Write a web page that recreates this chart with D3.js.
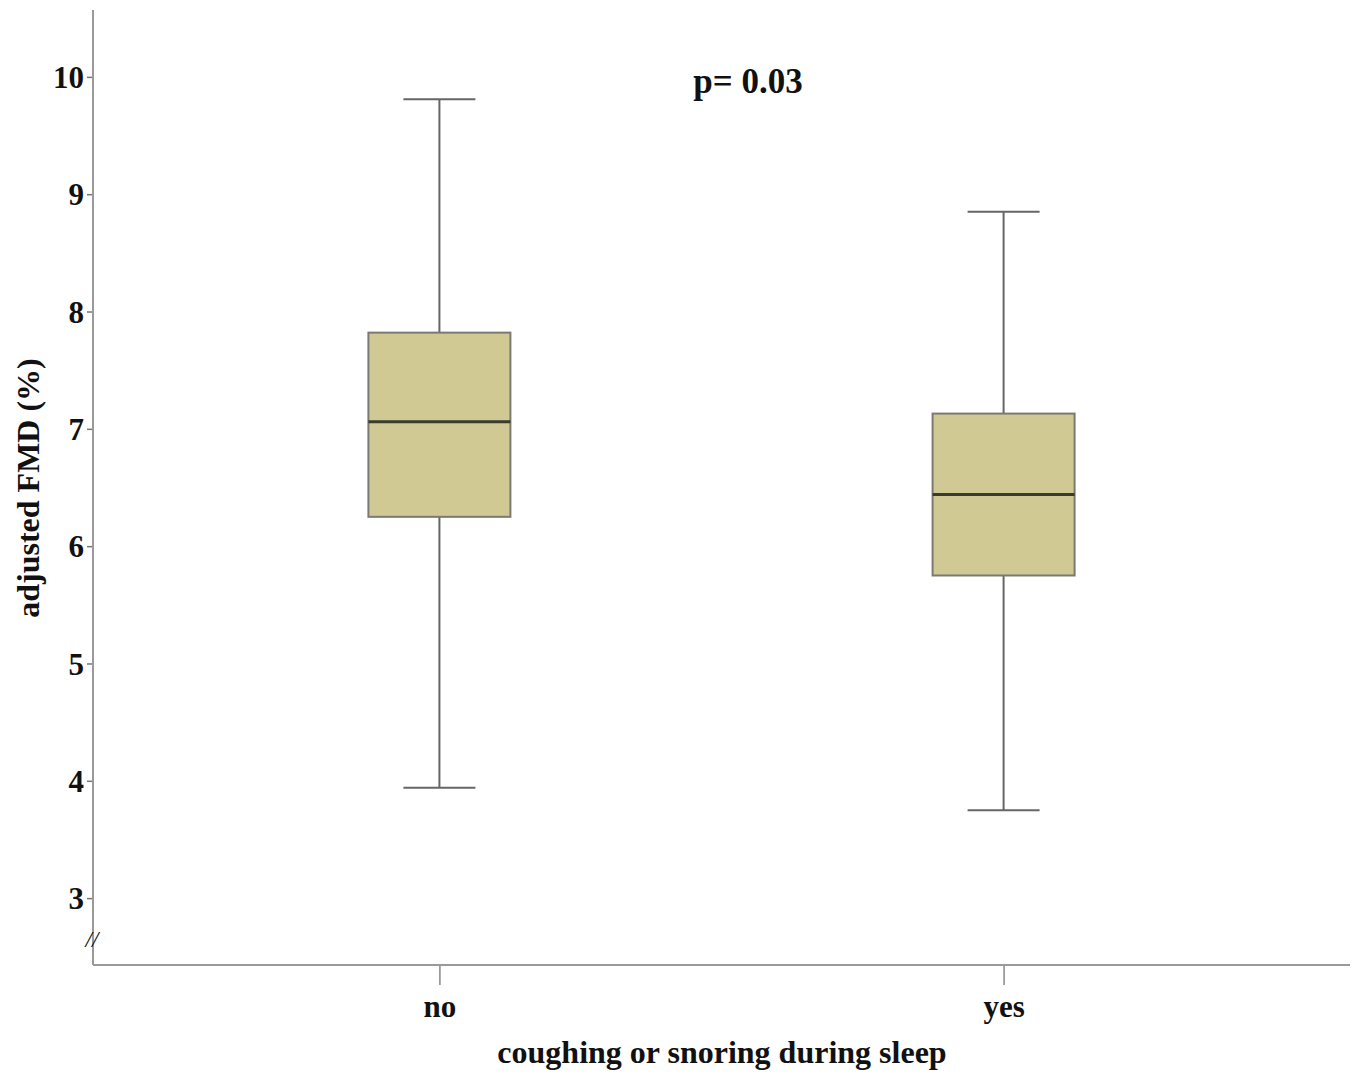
<!DOCTYPE html>
<html>
<head>
<meta charset="utf-8">
<script src="https://cdn.jsdelivr.net/npm/d3@7"></script>
<style>
  html, body { margin: 0; padding: 0; background: #fff; }
  svg { display: block; }
  text { font-family: "Liberation Serif", "Times New Roman", serif; font-weight: bold; fill: #111; }
</style>
</head>
<body>
<svg id="chart" width="1358" height="1075"></svg>
<script>
const categories = ["no", "yes"];
const whiskerLow = [3.94, 3.75];
const q1 = [6.25, 5.75];
const median = [7.06, 6.44];
const q3 = [7.82, 7.13];
const whiskerHigh = [9.81, 8.85];
const yTicks = [3, 4, 5, 6, 7, 8, 9, 10];
const pLabel = "p= 0.03";
const xTitle = "coughing or snoring during sleep";
const yTitle = "adjusted FMD (%)";

const data = categories.map((c, i) => ({
  cat: c, lo: whiskerLow[i], q1: q1[i], med: median[i], q3: q3[i], hi: whiskerHigh[i]
}));

const svg = d3.select("#chart");
const mLeft = 93, mRight = 1350, mTop = 10, mBottom = 965;

const x = d3.scalePoint().domain(categories).range([mLeft, mRight]).padding(0.614);
const y = d3.scaleLinear().domain([2.43, 10.57]).range([mBottom, mTop]);

const axisColor = "#9a9a9a";

// Y axis
const yAxis = svg.append("g").attr("transform", `translate(${mLeft},0)`)
  .call(d3.axisLeft(y).tickValues(yTicks).tickSize(6).tickPadding(3).tickFormat(d3.format("d")));
yAxis.select(".domain").remove();
yAxis.selectAll(".tick line").attr("stroke", "#777").attr("stroke-width", 1.5);
yAxis.selectAll(".tick text").style("font-size", "31px").attr("fill", "#111")
  .style("font-family", '"Liberation Serif", serif').style("font-weight", "bold").attr("dy", "0.34em");
svg.append("line").attr("x1", mLeft).attr("x2", mLeft).attr("y1", mTop).attr("y2", mBottom)
  .attr("stroke", axisColor).attr("stroke-width", 2);

// X axis
const xAxis = svg.append("g").attr("transform", `translate(0,${mBottom})`)
  .call(d3.axisBottom(x).tickSize(20).tickPadding(10));
xAxis.select(".domain").remove();
xAxis.selectAll(".tick line").attr("stroke", "#888").attr("stroke-width", 1.5);
xAxis.selectAll(".tick text").style("font-size", "31px").attr("fill", "#111")
  .style("font-family", '"Liberation Serif", serif').style("font-weight", "bold");
svg.append("line").attr("x1", mLeft).attr("x2", mRight).attr("y1", mBottom).attr("y2", mBottom)
  .attr("stroke", axisColor).attr("stroke-width", 2);

// Axis break mark
svg.append("text").attr("x", mLeft - 1).attr("y", y(2.63)).attr("text-anchor", "middle")
  .attr("dominant-baseline", "middle")
  .style("font-size", "23px").style("font-style", "italic").style("font-weight", "normal")
  .attr("fill", "#333").text("//");

// Boxes
const boxW = 142, capW = 72;
const g = svg.append("g").selectAll("g").data(data).join("g");
g.append("line").attr("x1", d => x(d.cat)).attr("x2", d => x(d.cat))
  .attr("y1", d => y(d.hi)).attr("y2", d => y(d.q3)).attr("stroke", "#666").attr("stroke-width", 2);
g.append("line").attr("x1", d => x(d.cat)).attr("x2", d => x(d.cat))
  .attr("y1", d => y(d.q1)).attr("y2", d => y(d.lo)).attr("stroke", "#666").attr("stroke-width", 2);
g.append("line").attr("x1", d => x(d.cat) - capW / 2).attr("x2", d => x(d.cat) + capW / 2)
  .attr("y1", d => y(d.hi)).attr("y2", d => y(d.hi)).attr("stroke", "#666").attr("stroke-width", 2);
g.append("line").attr("x1", d => x(d.cat) - capW / 2).attr("x2", d => x(d.cat) + capW / 2)
  .attr("y1", d => y(d.lo)).attr("y2", d => y(d.lo)).attr("stroke", "#666").attr("stroke-width", 2);
g.append("rect").attr("x", d => x(d.cat) - boxW / 2).attr("width", boxW)
  .attr("y", d => y(d.q3)).attr("height", d => y(d.q1) - y(d.q3))
  .attr("fill", "#d0c993").attr("stroke", "#7a7a72").attr("stroke-width", 2);
g.append("line").attr("x1", d => x(d.cat) - boxW / 2).attr("x2", d => x(d.cat) + boxW / 2)
  .attr("y1", d => y(d.med)).attr("y2", d => y(d.med)).attr("stroke", "#3a3a30").attr("stroke-width", 3);

// p label
svg.append("text").attr("x", 748).attr("y", 93).attr("text-anchor", "middle")
  .style("font-size", "35px").text(pLabel);

// Axis titles
svg.append("text").attr("x", 722).attr("y", 1063).attr("text-anchor", "middle")
  .style("font-size", "32px").text(xTitle);
svg.append("text").attr("transform", `translate(39,488) rotate(-90)`).attr("text-anchor", "middle")
  .style("font-size", "32px").text(yTitle);
</script>
</body>
</html>
